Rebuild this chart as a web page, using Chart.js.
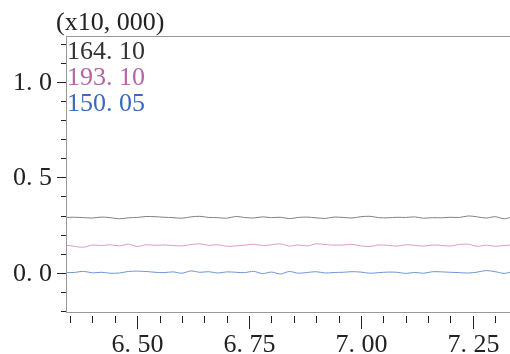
<!DOCTYPE html>
<html>
<head>
<meta charset="utf-8">
<script src="https://cdn.jsdelivr.net/npm/chart.js@4.4.1/dist/chart.umd.min.js"></script>
<style>
  body { margin: 0; background: #fff; }
  #wrap { width: 510px; height: 354px; }
</style>
</head>
<body>
<div id="wrap"><canvas id="chart"></canvas></div>
<script>
// x positions (same for all three traces)
const times = [6.34, 6.36, 6.38, 6.40, 6.42, 6.44, 6.46, 6.48, 6.50, 6.52,
  6.54, 6.56, 6.58, 6.60, 6.62, 6.64, 6.66, 6.68, 6.70, 6.72,
  6.74, 6.76, 6.78, 6.80, 6.82, 6.84, 6.86, 6.88, 6.90, 6.92,
  6.94, 6.96, 6.98, 7.00, 7.02, 7.04, 7.06, 7.08, 7.10, 7.12,
  7.14, 7.16, 7.18, 7.20, 7.22, 7.24, 7.26, 7.28, 7.30, 7.32, 7.335];

const grayTrace = [0.290, 0.291, 0.289, 0.287, 0.292, 0.289, 0.283, 0.288, 0.290, 0.295,
  0.294, 0.291, 0.289, 0.286, 0.293, 0.296, 0.290, 0.289, 0.286, 0.295,
  0.290, 0.287, 0.293, 0.289, 0.291, 0.284, 0.290, 0.292, 0.288, 0.285,
  0.292, 0.290, 0.287, 0.294, 0.296, 0.289, 0.288, 0.291, 0.290, 0.293,
  0.286, 0.289, 0.288, 0.291, 0.290, 0.298, 0.293, 0.287, 0.294, 0.283, 0.291];

const purpleTrace = [0.145, 0.139, 0.134, 0.146, 0.143, 0.147, 0.141, 0.150, 0.138, 0.147,
  0.144, 0.146, 0.143, 0.141, 0.148, 0.152, 0.144, 0.147, 0.139, 0.141,
  0.145, 0.150, 0.143, 0.147, 0.152, 0.140, 0.146, 0.141, 0.152, 0.148,
  0.145, 0.146, 0.149, 0.141, 0.138, 0.146, 0.144, 0.140, 0.147, 0.144,
  0.140, 0.146, 0.144, 0.140, 0.149, 0.150, 0.139, 0.145, 0.139, 0.143, 0.146];

const blueTrace = [0.001, 0.002, 0.008, 0.000, 0.003, -0.002, -0.001, 0.007, 0.009, 0.007,
  0.003, 0.001, 0.005, -0.002, 0.010, 0.003, 0.006, -0.001, 0.005, 0.003,
  0.001, 0.008, -0.004, 0.004, -0.006, 0.007, -0.002, 0.002, 0.006, -0.001,
  0.002, 0.003, 0.006, 0.004, -0.002, 0.001, 0.004, 0.003, -0.003, 0.002,
  -0.002, 0.006, 0.005, 0.003, 0.001, -0.001, 0.004, 0.012, 0.006, -0.003, 0.004];

const legendLabels = ["164. 10", "193. 10", "150. 05"];
const legendColors = ["#333333", "#b565a7", "#3a6bbf"];
const lineColors = ["#808080", "#d79bd0", "#6f96d2"];

const yTicks = [-0.2, -0.1, 0.0, 0.1, 0.2, 0.3, 0.4, 0.5, 0.6, 0.7, 0.8, 0.9, 1.0, 1.1, 1.2];
const yLabels = { "0": "0. 0", "0.5": "0. 5", "1": "1. 0" };
const xTicks = [6.35, 6.40, 6.45, 6.50, 6.55, 6.60, 6.65, 6.70, 6.75, 6.80, 6.85, 6.90,
  6.95, 7.00, 7.05, 7.10, 7.15, 7.20, 7.25, 7.30, 7.35];
const xLabels = { "6.5": "6. 50", "6.75": "6. 75", "7": "7. 00", "7.25": "7. 25" };
const unitText = "(x10, 000)";

const FONT = '26px "Liberation Serif", "DejaVu Serif", serif';

function toPoints(ys) {
  return ys.map((y, i) => ({ x: times[i], y: y }));
}

const decor = {
  id: "decor",
  afterDraw(chart) {
    const ctx = chart.ctx;
    const a = chart.chartArea;
    const xs = chart.scales.x;
    const ys = chart.scales.y;
    ctx.save();

    // frame lines
    ctx.strokeStyle = "#999";
    ctx.lineWidth = 1;
    ctx.beginPath();
    ctx.moveTo(a.left, a.top + 0.5); ctx.lineTo(a.right, a.top + 0.5);
    ctx.moveTo(a.left + 0.5, a.top); ctx.lineTo(a.left + 0.5, a.bottom);
    ctx.moveTo(a.left, a.bottom + 0.5); ctx.lineTo(a.right, a.bottom + 0.5);
    ctx.stroke();

    // y ticks
    ctx.strokeStyle = "#222";
    ctx.fillStyle = "#222";
    ctx.font = FONT;
    ctx.textAlign = "right";
    ctx.textBaseline = "middle";
    yTicks.forEach(v => {
      const y = Math.round(ys.getPixelForValue(v)) + 0.5;
      const key = String(Math.round(v * 10) / 10);
      const major = yLabels[key] !== undefined;
      ctx.beginPath();
      ctx.moveTo(a.left - (major ? 9 : 5), y);
      ctx.lineTo(a.left, y);
      ctx.stroke();
      if (major) ctx.fillText(yLabels[key], a.left - 14, y + 1);
    });

    // x ticks
    ctx.textAlign = "center";
    xTicks.forEach(v => {
      const x = Math.round(xs.getPixelForValue(v)) + 0.5;
      const key = String(Math.round(v * 100) / 100);
      const major = xLabels[key] !== undefined;
      ctx.beginPath();
      ctx.moveTo(x, a.bottom + 4);
      ctx.lineTo(x, a.bottom + (major ? 17 : 11));
      ctx.stroke();
      if (major) ctx.fillText(xLabels[key], x, a.bottom + 33);
    });

    // unit and value labels
    ctx.textAlign = "left";
    ctx.fillText(unitText, 56, 23);
    legendLabels.forEach((t, i) => {
      ctx.fillStyle = legendColors[i];
      ctx.fillText(t, a.left + 1, 52 + i * 26);
    });
    ctx.restore();
  }
};

new Chart(document.getElementById("chart"), {
  type: "line",
  data: {
    datasets: [
      { data: toPoints(grayTrace), borderColor: lineColors[0] },
      { data: toPoints(purpleTrace), borderColor: lineColors[1] },
      { data: toPoints(blueTrace), borderColor: lineColors[2] }
    ]
  },
  options: {
    responsive: true,
    maintainAspectRatio: false,
    animation: false,
    layout: { padding: { top: 36, left: 0, right: 0, bottom: 0 } },
    elements: {
      line: { borderWidth: 1, tension: 0.3 },
      point: { radius: 0 }
    },
    plugins: {
      legend: { display: false },
      tooltip: { enabled: false }
    },
    scales: {
      x: {
        type: "linear",
        min: 6.341,
        max: 7.333,
        grid: { display: false },
        border: { display: false },
        ticks: { display: false },
        afterFit: s => { s.height = 42; }
      },
      y: {
        min: -0.205,
        max: 1.24,
        grid: { display: false },
        border: { display: false },
        ticks: { display: false },
        afterFit: s => { s.width = 66; }
      }
    }
  },
  plugins: [decor]
});
</script>
</body>
</html>
